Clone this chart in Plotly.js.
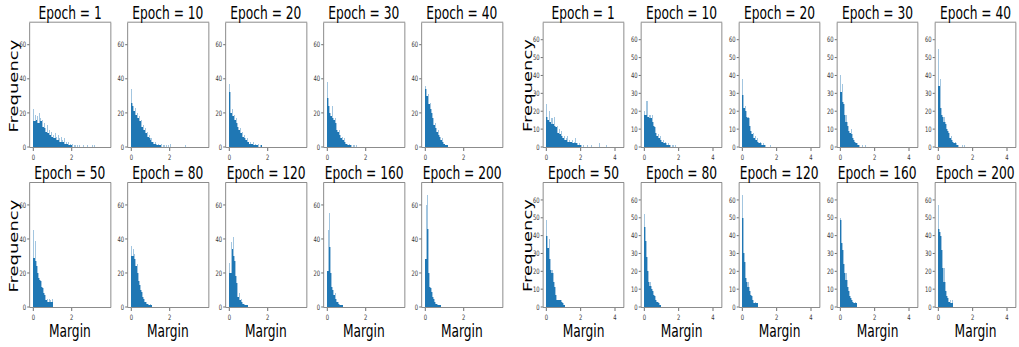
<!DOCTYPE html>
<html><head><meta charset="utf-8">
<script src="https://cdn.plot.ly/plotly-3.0.1.min.js"></script>
<style>
html,body{margin:0;padding:0;background:#fff;overflow:hidden;width:1019px;height:347px}
#chart{width:1456px;height:347px;transform:scaleX(0.69986);transform-origin:0 0}
</style>
</head><body><div id="chart"></div>
<script>
// ---- data ----
const epochs = [1, 10, 20, 30, 40, 50, 80, 120, 160, 200];
const leftBinWidth = 0.05;   // margin histogram bin width, left experiment
const rightBinWidth = 0.06;  // margin histogram bin width, right experiment

// Left experiment: frequency per margin bin (bins start at 0)
const left_e1   = [22,15,19,16,18,14,20,17,15,16,12,14,11,9,13,8,10,7,9,6,10,7,5,8,6,4,7,5,3,6,4,3,5,2,3,2,3,1,2,1,2,0,1,1,0,0,1,0,1,0,0,0,1,0,0,0,1,0,0,0,0,1,0,1];
const left_e10  = [34,26,24,21,23,19,20,17,18,15,16,12,13,10,11,8,9,6,7,5,4,5,3,3,2,3,2,1,2,1,1,2,0,1,1,0,1,0,1,0,2,0,0,0,0,0,0,0,0,0,0,0,0,0,0,0,1];
const left_e20  = [37,32,20,22,18,19,16,17,14,12,10,11,8,9,6,7,5,4,5,3,4,2,3,2,2,3,1,2,1,1,2,0,1,1];
const left_e30  = [38,29,24,20,18,24,17,16,17,14,10,9,10,7,5,6,4,5,3,2,3,2,1,2,1,1,0,1,1,0,1];
const left_e40  = [36,34,30,31,25,26,22,20,17,13,14,11,9,10,7,6,4,5,3,2,3,1,1,1];
const left_e50  = [45,29,39,27,24,20,17,16,15,12,11,8,7,4,5,3,5,4,3,5];
const left_e80  = [36,30,34,31,28,24,25,20,15,13,10,9,6,5,3,3,2,2,1,2,1,1];
const left_e120 = [26,20,38,34,41,30,27,18,14,6,8,4,5,3,2,2,1,1,1];
const left_e160 = [21,45,55,35,20,12,10,7,8,5,3,3,2,1,1,1];
const left_e200 = [28,60,66,46,20,12,11,9,6,5,3,2,2,1,1,1];

// Right experiment
const right_e1   = [24,17,15,20,14,16,13,17,12,11,12,8,10,7,9,6,5,6,4,5,6,3,4,3,3,4,2,3,5,2,2,1,2,1,1,0,1,0,0,1,0,0,0,1,0,0,0,0,0,0,0,2,0,0,0,0,0,0,1];
const right_e10  = [20,18,26,26,17,18,16,18,14,12,11,8,6,7,5,6,4,3,4,2,3,2,1,2,1,1,0,1,1,0,1];
const right_e20  = [38,29,22,23,20,17,16,12,9,7,8,5,6,4,5,3,2,3,2,1,2,1,1,0,0,0,0,1];
const right_e30  = [40,31,35,25,24,18,14,12,9,8,10,7,5,4,3,2,2,1,1,0,0,1,0,0,1];
const right_e40  = [55,34,38,22,18,17,14,13,10,9,8,5,6,4,3,2,3,2,1,1,0,0,0,1,0,1];
const right_e50  = [49,40,33,38,27,21,19,14,11,7,4,4,4,4,4,3,2,1];
const right_e80  = [52,45,37,28,20,14,12,10,9,7,6,4,3,3,2,1];
const right_e120 = [63,50,30,25,16,14,11,9,7,6,4,2,3,2,2];
const right_e160 = [50,49,36,32,24,19,15,11,9,6,5,4,3,2,3,2];
const right_e200 = [57,44,42,40,32,22,14,9,6,5,3,4,2,4];

const leftTicksX = [0, 2];
const rightTicksX = [0, 2, 4];
const leftTicksY = [0, 20, 40, 60];
const rightTicksY = [0, 10, 20, 30, 40, 50, 60];

// ---- build ----
const leftSets = [left_e1,left_e10,left_e20,left_e30,left_e40,left_e50,left_e80,left_e120,left_e160,left_e200];
const rightSets = [right_e1,right_e10,right_e20,right_e30,right_e40,right_e50,right_e80,right_e120,right_e160,right_e200];

const W = 1019, H = 347;          // target picture size (px)
const PW = 1456;                  // plotted width before the horizontal squeeze
const font = "'DejaVu Sans', sans-serif";
const tickFont = {family: font, size: 7.5, color: '#333'};

function core(v) {
  return v.map((c, i) => Math.min(c, i > 0 ? v[i-1] : c, i < v.length - 1 ? v[i+1] : c));
}

const groups = [
  {sets: leftSets, bw: leftBinWidth, x0: 30, w: 80.5, xr: [-0.172, 4.02], yr: [0, 72.9], tx: leftTicksX, ty: leftTicksY, freqX: 13},
  {sets: rightSets, bw: rightBinWidth, x0: 543.5, w: 80, xr: [-0.165, 4.495], yr: [0, 69.5], tx: rightTicksX, ty: rightTicksY, freqX: 527}
];
const pitch = 98;
const rows = [{top: 22.7, bot: 147}, {top: 183, bot: 307}];

const traces = [];
const layout = {
  width: PW, height: H, margin: {l: 0, r: 0, t: 0, b: 0},
  paper_bgcolor: '#fff', plot_bgcolor: '#fff', showlegend: false,
  barmode: 'overlay', bargap: 0, annotations: []
};

groups.forEach((g, gi) => {
  g.sets.forEach((counts, k) => {
    const idx = gi * 10 + k + 1;
    const row = rows[k < 5 ? 0 : 1];
    const col = k % 5;
    const xl = g.x0 + col * pitch;
    const xs = counts.map((c, i) => (i + 0.5) * g.bw);
    const xa = 'x' + (idx === 1 ? '' : idx), ya = 'y' + (idx === 1 ? '' : idx);
    traces.push({type: 'bar', x: xs, y: counts, width: g.bw, xaxis: xa, yaxis: ya,
      marker: {color: '#a3c6e0', line: {width: 0}}, hoverinfo: 'skip'});
    traces.push({type: 'bar', x: xs, y: core(counts), width: g.bw, xaxis: xa, yaxis: ya,
      marker: {color: '#1f77b4', line: {width: 0}}, hoverinfo: 'skip'});
    const common = {showgrid: false, zeroline: false, showline: true, mirror: true,
      linecolor: '#777', linewidth: 1, ticks: 'outside', ticklen: 3, tickwidth: 1,
      tickcolor: '#555', tickfont: tickFont, fixedrange: true};
    layout['xaxis' + (idx === 1 ? '' : idx)] = Object.assign({}, common, {
      domain: [xl / W, (xl + g.w) / W], range: g.xr, tickvals: g.tx, anchor: ya, ticklen: 3});
    layout['yaxis' + (idx === 1 ? '' : idx)] = Object.assign({}, common, {
      domain: [1 - row.bot / H, 1 - row.top / H], range: g.yr, tickvals: g.ty, anchor: xa});
    // subplot title
    layout.annotations.push({text: 'Epoch = ' + epochs[k], xref: 'paper', yref: 'paper',
      x: (xl + g.w / 2) / W, y: 1 - (row.top + 2) / H, xanchor: 'center', yanchor: 'bottom',
      showarrow: false, font: {family: font, size: 17.5, color: '#000'}});
    if (k >= 5) {
      layout.annotations.push({text: 'Margin', xref: 'paper', yref: 'paper',
        x: (xl + g.w / 2) / W, y: 1 - 331 / H, xanchor: 'center', yanchor: 'middle',
        showarrow: false, font: {family: font, size: 17.5, color: '#000'}});
    }
  });
  [86, 246].forEach(cy => {
    layout.annotations.push({text: 'Frequency', xref: 'paper', yref: 'paper',
      x: g.freqX / W, y: 1 - cy / H, xanchor: 'center', yanchor: 'middle', textangle: -90,
      showarrow: false, font: {family: font, size: 18, color: '#000'}});
  });
});

Plotly.newPlot('chart', traces, layout, {staticPlot: true, displayModeBar: false});
</script></body></html>
